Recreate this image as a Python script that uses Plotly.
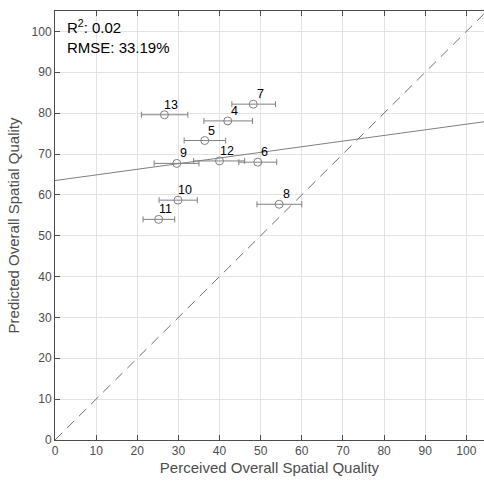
import plotly.graph_objects as go

labels = ["4", "5", "6", "7", "8", "9", "10", "11", "12", "13"]
perceived = [42.0, 36.4, 49.3, 48.2, 54.5, 29.6, 29.9, 25.2, 40.0, 26.6]
perceived_low = [36.2, 31.4, 44.7, 43.0, 49.1, 24.1, 25.3, 21.4, 33.7, 21.0]
perceived_high = [48.0, 41.5, 53.9, 53.6, 60.0, 35.0, 34.6, 29.1, 46.1, 32.3]
predicted = [78.1, 73.3, 68.0, 82.2, 57.7, 67.7, 58.7, 54.0, 68.3, 79.6]

fit_intercept = 63.5
fit_slope = 0.138
axis_max = 105

err_plus = [h - p for h, p in zip(perceived_high, perceived)]
err_minus = [p - l for l, p in zip(perceived_low, perceived)]

FONT = "Liberation Sans, Arial, sans-serif"
GRAY = "#808080"

fig = go.Figure()

# identity line
fig.add_trace(go.Scatter(x=[0, axis_max], y=[0, axis_max], mode="lines",
                         line=dict(color="#707070", width=1, dash="10px,7px"),
                         hoverinfo="skip", showlegend=False))
# fit line
fig.add_trace(go.Scatter(x=[0, axis_max],
                         y=[fit_intercept, fit_intercept + fit_slope * axis_max],
                         mode="lines", line=dict(color=GRAY, width=1),
                         hoverinfo="skip", showlegend=False))
# points with error bars
fig.add_trace(go.Scatter(x=perceived, y=predicted, mode="markers",
                         marker=dict(symbol="circle-open", size=8, color=GRAY,
                                     line=dict(width=1, color=GRAY)),
                         error_x=dict(type="data", symmetric=False, array=err_plus,
                                      arrayminus=err_minus, color=GRAY,
                                      thickness=1, width=3),
                         showlegend=False))

for lab, x, y in zip(labels, perceived, predicted):
    fig.add_annotation(x=x, y=y, text=lab, showarrow=False, xanchor="center",
                       yanchor="bottom", xshift=7, yshift=1,
                       font=dict(family=FONT, size=12.5, color="#000000"))

fig.add_annotation(xref="paper", yref="paper", x=0.024, y=0.99, xanchor="left",
                   yanchor="top", align="left", showarrow=False,
                   text="R<sup>2</sup>: 0.02<br>RMSE: 33.19%",
                   font=dict(family=FONT, size=15, color="#000000"))

axis_common = dict(showgrid=True, gridcolor="#e3e3e3", gridwidth=1,
                   showline=True, linecolor="#4d4d4d", linewidth=1,
                   ticks="inside", ticklen=5, tickcolor="#4d4d4d",
                   tickfont=dict(family=FONT, size=12, color="#4d4d4d"),
                   dtick=10, tick0=0, zeroline=False)

fig.update_layout(
    width=484, height=485,
    margin=dict(l=55, r=0, t=11, b=45),
    plot_bgcolor="white", paper_bgcolor="white",
    xaxis=dict(range=[0, 104.3], mirror="ticks",
               title=dict(text="Perceived Overall Spatial Quality", standoff=5,
                          font=dict(family=FONT, size=15, color="#4d4d4d")),
               **axis_common),
    yaxis=dict(range=[0, axis_max], mirror=False,
               title=dict(text="Predicted Overall Spatial Quality", standoff=8,
                          font=dict(family=FONT, size=15, color="#4d4d4d")),
               **axis_common),
)

fig.write_html("out.html")
